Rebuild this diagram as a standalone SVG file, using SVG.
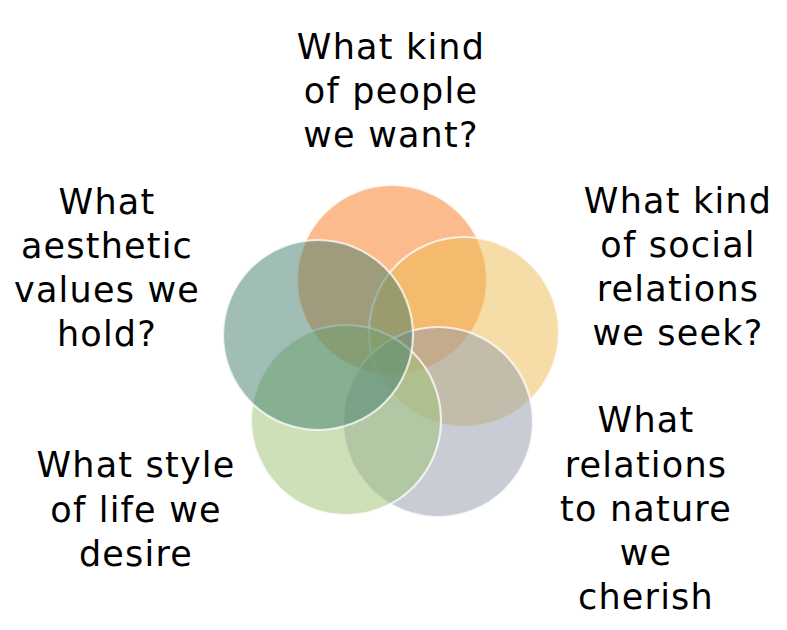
<svg xmlns="http://www.w3.org/2000/svg" width="787" height="630" viewBox="0 0 787 630">
<style>
.c{fill-opacity:0.5;stroke:#ffffff;stroke-opacity:0.75;stroke-width:2.2}
.t{font-family:"DejaVu Sans","Liberation Sans",sans-serif;font-size:35px;fill:#000;text-anchor:middle;letter-spacing:1.2px}
</style>
<rect width="787" height="630" fill="#ffffff"/>
<g id="circles">
<g id="node-people"><circle class="c" cx="392" cy="280" r="95" fill="#F7771B"/></g>
<g id="node-social"><circle class="c" cx="464" cy="332" r="95" fill="#EDBB51"/></g>
<g id="node-nature"><circle class="c" cx="438" cy="422" r="95" fill="#919BAB"/></g>
<g id="node-life"><circle class="c" cx="346" cy="420" r="95" fill="#9BC171"/></g>
<g id="node-aesthetic"><circle class="c" cx="318" cy="335" r="95" fill="#417D6B"/></g>
</g>
<g id="labels">
<g id="label-people"><text class="t" x="391" y="59">What kind</text><text class="t" x="391" y="103">of people</text><text class="t" x="391" y="147">we want?</text></g>
<g id="label-social"><text class="t" x="678" y="213">What kind</text><text class="t" x="678" y="257">of social</text><text class="t" x="678" y="301">relations</text><text class="t" x="678" y="345">we seek?</text></g>
<g id="label-aesthetic"><text class="t" x="107" y="214">What</text><text class="t" x="107" y="258">aesthetic</text><text class="t" x="107" y="302">values we</text><text class="t" x="107" y="346">hold?</text></g>
<g id="label-life"><text class="t" x="136" y="477">What style</text><text class="t" x="136" y="522">of life we</text><text class="t" x="136" y="566">desire</text></g>
<g id="label-nature"><text class="t" x="646" y="432">What</text><text class="t" x="646" y="477">relations</text><text class="t" x="646" y="521">to nature</text><text class="t" x="646" y="565">we</text><text class="t" x="646" y="609">cherish</text></g>
</g>
</svg>
